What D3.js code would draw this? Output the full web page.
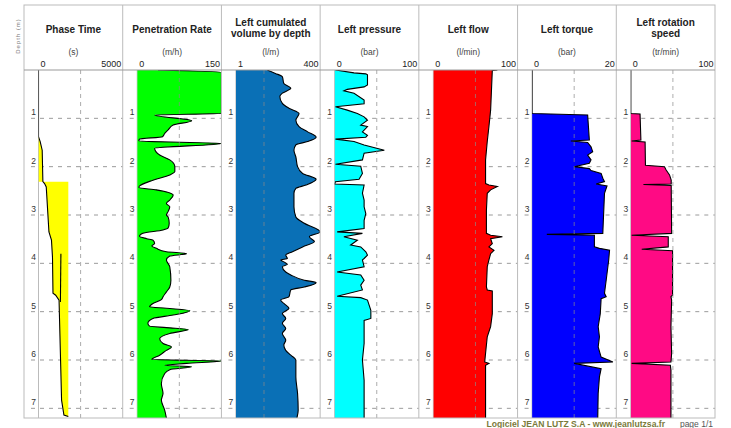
<!DOCTYPE html>
<html>
<head>
<meta charset="utf-8">
<script src="https://cdn.jsdelivr.net/npm/d3@7"></script>
<style>
  html, body { margin: 0; padding: 0; background: #fff; }
  svg { display: block; font-family: "Liberation Sans", Arial, Helvetica, sans-serif; }
</style>
</head>
<body>
<svg id="chart" width="731" height="428"></svg>
<script>
// ---- Drilling log data: [depth (m), value] pairs per parameter ----
const depthTicks = [1, 2, 3, 4, 5, 6, 7];

const phaseTime = [[0,0],[1.38,0],[1.48,100],[1.66,220],[2.31,260],[2.35,360],[2.42,460],[3.35,620],
  [3.52,770],[3.87,830],[4.62,860],[4.66,1020],[4.76,1220],[6.83,1370],[7.14,1510],[7.17,1770]];
// second phase trace
const phaseTimeB = [[3.8,1330],[4.8,1300]];
// shaded phase band: [depth, from, to]
const phaseBand = [[1.38,0,0],[1.48,0,100],[1.66,0,220],[2.31,0,260],[2.31,260,1770],[2.35,360,1770],
  [2.42,460,1770],[3.35,620,1770],[3.52,770,1770],[3.87,830,1770],[4.62,860,1770],[4.66,1020,1770],
  [4.76,1220,1770],[6.83,1370,1770],[7.14,1510,1770],[7.17,1770,1770]];

const penetrationRate = [[0,37],[0.05,150],[0.9,150],[0.93,31],[1.05,97],[1.14,64],[1.24,55],[1.31,49],
  [1.38,45],[1.43,4],[1.47,3],[1.52,150],[1.62,31],[1.76,40],[1.86,58],[2.0,67],[2.1,67],[2.17,58],
  [2.28,28],[2.4,4],[2.43,3],[2.48,34],[2.59,64],[2.69,58],[2.76,52],[2.83,58],[2.93,55],[3.0,52],
  [3.04,55],[3.17,57],[3.27,55],[3.31,46],[3.38,10],[3.44,4],[3.49,17],[3.52,28],[3.59,31],[3.64,26],
  [3.69,34],[3.76,52],[3.8,88],[3.85,58],[3.93,52],[4.07,58],[4.35,60],[4.49,58],[4.59,52],[4.69,46],
  [4.75,43],[4.83,28],[4.9,22],[4.93,52],[4.98,94],[5.07,64],[5.14,28],[5.24,19],[5.3,22],[5.33,52],
  [5.37,91],[5.45,58],[5.56,40],[5.66,46],[5.73,61],[5.8,52],[5.9,40],[5.99,26],[6.02,150],[6.07,88],
  [6.11,49],[6.14,97],[6.2,58],[6.28,49],[6.49,43],[6.69,46],[6.83,43],[7.04,49],[7.2,52]];

const cumulatedVolume = [[0,149],[0.07,188],[0.14,221],[0.28,228],[0.38,261],[0.48,221],[0.55,209],
  [0.69,221],[0.79,252],[0.9,300],[1.04,285],[1.17,300],[1.28,341],[1.39,381],[1.48,341],[1.55,285],
  [1.66,276],[1.8,285],[2.0,293],[2.14,317],[2.26,381],[2.38,333],[2.45,285],[2.55,276],[2.83,276],
  [3.04,285],[3.17,325],[3.35,400],[3.45,349],[3.55,373],[3.66,317],[3.76,269],[3.83,237],[3.9,245],
  [3.93,213],[3.97,228],[4.02,245],[4.07,221],[4.18,237],[4.24,261],[4.35,325],[4.4,381],[4.49,325],
  [4.55,261],[4.69,252],[4.76,213],[4.83,228],[4.93,252],[5.04,221],[5.14,237],[5.24,221],[5.35,237],
  [5.45,221],[5.59,237],[5.69,228],[5.8,237],[5.9,261],[6.0,285],[6.35,285],[6.69,293],[7.04,296],[7.2,290]];

const pressure = [[0,1],[0.06,23],[0.08,37],[0.1,39],[0.31,39],[0.35,35],[0.4,15],[0.43,11],[0.48,23],
  [0.62,35],[0.7,35],[0.76,1],[0.83,15],[0.9,27],[0.97,35],[1.04,39],[1.14,31],[1.17,39],[1.28,33],
  [1.35,39],[1.39,37],[1.43,1],[1.48,23],[1.55,35],[1.66,59],[1.72,35],[1.86,33],[1.95,1],[1.99,31],
  [2.14,33],[2.26,29],[2.31,1],[2.36,0],[2.38,35],[2.55,33],[2.69,35],[2.83,35],[2.97,37],[3.11,35],
  [3.28,35],[3.35,3],[3.38,33],[3.45,11],[3.52,27],[3.62,19],[3.66,31],[3.76,37],[3.83,39],[3.9,35],
  [3.93,33],[4.07,35],[4.18,3],[4.24,31],[4.35,35],[4.45,31],[4.55,33],[4.68,3],[4.71,31],[4.76,39],
  [4.97,43],[5.14,43],[5.18,35],[5.66,35],[6.0,33],[6.42,35],[7.0,35],[7.2,35]];

const flow = [[0,76],[0.01,70],[0.83,68],[1.17,66],[1.48,64],[1.86,62],[2.35,62],[2.38,66],[2.41,76],
  [2.48,68],[2.55,64],[2.9,63],[3.38,63],[3.42,68],[3.45,82],[3.49,68],[3.59,70],[3.66,66],[3.73,72],
  [3.8,68],[3.93,66],[4.07,64],[4.49,63],[4.55,64],[4.57,70],[5.04,70],[5.31,68],[5.52,64],[5.86,62],
  [6.04,61],[6.07,66],[6.11,62],[7.2,62]];

const torque = [[0,0],[0.9,0],[0.93,13.2],[1.45,13.6],[1.47,9.2],[1.5,13.2],[1.59,14],[1.69,14.4],
  [1.76,13.2],[1.86,14],[1.93,13.6],[2.0,10],[2.04,13.6],[2.08,14],[2.14,16.4],[2.24,16.8],[2.31,17.2],
  [2.36,15.2],[2.4,17.8],[2.55,17.2],[3.38,16.8],[3.4,3.5],[3.42,14.8],[3.66,14.8],[3.69,16],[3.73,18.4],
  [3.93,18.2],[4.35,17.6],[4.62,17.2],[4.69,17.6],[4.73,16.4],[5.04,16.2],[5.31,15.7],[5.52,16],
  [5.73,15.7],[5.94,16.4],[6.04,19.2],[6.07,10],[6.18,16.4],[6.35,16],[6.69,15.7],[7.2,15.6]];

const rotationSpeed = [[0,0],[0.9,0],[0.91,11],[1.45,12],[1.47,1],[1.49,17],[1.97,17.4],[2.0,40],
  [2.07,42],[2.17,46],[2.28,48],[2.36,48],[2.37,15],[2.39,48],[3.38,48.5],[3.42,1],[3.45,44.5],
  [3.66,44.5],[3.71,13],[3.74,49.6],[4.66,49.6],[4.69,47.7],[4.76,48.5],[5.31,47.7],[5.87,48.5],
  [6.04,47.7],[6.07,1],[6.11,47],[6.21,47.7],[7.2,47.7]];

// ---- Track definitions ----
const tracks = [
  { title: ["Phase Time"], unit: "(s)", domain: [0, 5000], grid: 2500, color: "#ffff00", band: phaseBand,
    lines: [phaseTime, phaseTimeB] },
  { title: ["Penetration Rate"], unit: "(m/h)", domain: [0, 150], grid: 75, color: "#00ff00",
    series: penetrationRate, smooth: true },
  { title: ["Left cumulated", "volume by depth"], unit: "(l/m)", domain: [1, 400], grid: 134, color: "#0a70b6",
    series: cumulatedVolume, smooth: true },
  { title: ["Left pressure"], unit: "(bar)", domain: [0, 100], grid: 50, color: "#00ffff", series: pressure },
  { title: ["Left flow"], unit: "(l/min)", domain: [0, 100], grid: 50, color: "#ff0000", series: flow },
  { title: ["Left torque"], unit: "(bar)", domain: [0, 20], grid: 10, color: "#0000ff", series: torque },
  { title: ["Left rotation", "speed"], unit: "(tr/min)", domain: [0, 100], grid: 50, color: "#ff0a84",
    series: rotationSpeed }
];

// ---- Layout ----
const frame = { left: 24, right: 715, top: 5, head: 70, bottom: 418 };
const depthMax = 7.2;
const colW = (frame.right - frame.left) / tracks.length;
const svg = d3.select("#chart");

const y = d3.scaleLinear().domain([0, depthMax]).range([frame.head, frame.bottom]);

svg.append("rect").attr("width", 731).attr("height", 428).attr("fill", "#fff");

tracks.forEach((t, i) => {
  const colL = frame.left + i * colW;
  const colR = colL + colW;
  const plotL = colL + 14.5;
  const x = d3.scaleLinear().domain(t.domain).range([plotL, colR]);
  const g = svg.append("g");
  const clipId = "clip" + i;
  svg.append("clipPath").attr("id", clipId)
    .append("rect").attr("x", plotL).attr("y", frame.head)
    .attr("width", colR - plotL).attr("height", frame.bottom - frame.head);

  // header
  const cx = (colL + colR) / 2;
  const titleY = t.title.length === 1 ? [33] : [25.5, 37];
  t.title.forEach((s, k) => {
    g.append("text").attr("x", cx).attr("y", titleY[k]).attr("text-anchor", "middle")
      .attr("font-size", 10).attr("font-weight", "bold").attr("fill", "#222").text(s);
  });
  g.append("text").attr("x", cx).attr("y", 55).attr("text-anchor", "middle")
    .attr("font-size", 8.5).attr("fill", "#444").text(t.unit);

  // scale range labels
  const ax = g.append("g").attr("transform", `translate(0,67)`)
    .call(d3.axisTop(x).tickValues(t.domain).tickSize(0).tickFormat(d3.format("d")));
  ax.select(".domain").remove();
  ax.selectAll("text").attr("y", 0).attr("dy", 0).attr("font-size", 9)
    .attr("fill", "#222").attr("font-family", "Liberation Sans, Arial, sans-serif")
    .attr("text-anchor", (d, k) => k === 0 ? "start" : "end")
    .attr("x", (d, k) => k === 0 ? 1.5 : -2);

  // left edge of plot area
  g.append("line").attr("x1", plotL).attr("x2", plotL).attr("y1", frame.head).attr("y2", frame.bottom)
    .attr("stroke", "#bbb");

  // horizontal depth grid (behind the curves)
  g.selectAll(".hgrid").data(depthTicks).enter().append("line")
    .attr("x1", colL + 7).attr("x2", colR).attr("y1", d => y(d)).attr("y2", d => y(d))
    .attr("stroke", "#8a8a8a").attr("stroke-dasharray", "4,5").attr("stroke-opacity", 0.85);

  const body = g.append("g").attr("clip-path", `url(#${clipId})`);
  const curve = t.smooth ? d3.curveMonotoneY : d3.curveLinear;

  if (t.band) {
    body.append("path").datum(t.band)
      .attr("d", d3.area().y(d => y(d[0])).x0(d => x(d[1])).x1(d => x(d[2])))
      .attr("fill", t.color);
    t.lines.forEach(ln => {
      body.append("path").datum(ln)
        .attr("d", d3.line().y(d => y(d[0])).x(d => x(d[1])))
        .attr("fill", "none").attr("stroke", "#000").attr("stroke-width", 1.1);
    });
  } else {
    body.append("path").datum(t.series)
      .attr("d", d3.area().curve(curve).y(d => y(d[0])).x0(x(t.domain[0])).x1(d => x(d[1])))
      .attr("fill", t.color);
    body.append("path").datum(t.series)
      .attr("d", d3.line().curve(curve).y(d => y(d[0])).x(d => x(d[1])))
      .attr("fill", "none").attr("stroke", "#000").attr("stroke-width", 1.1);
  }

  // vertical mid-scale grid
  g.append("line").attr("x1", x(t.grid)).attr("x2", x(t.grid))
    .attr("y1", frame.head).attr("y2", frame.bottom)
    .attr("stroke", "#8a8a8a").attr("stroke-dasharray", "4,4").attr("stroke-opacity", 0.7);

  // depth labels
  const dAx = g.append("g").attr("transform", `translate(${colL + 12},0)`)
    .call(d3.axisLeft(y).tickValues(depthTicks).tickSize(0).tickFormat(d3.format("d")));
  dAx.select(".domain").remove();
  dAx.selectAll("text").attr("x", -2.5).attr("dy", -3.5).attr("text-anchor", "middle")
    .attr("font-size", 8.5).attr("fill", "#333").attr("font-family", "Liberation Sans, Arial, sans-serif");
});

// frame and separators
svg.append("rect").attr("x", frame.left).attr("y", frame.top)
  .attr("width", frame.right - frame.left).attr("height", frame.bottom - frame.top)
  .attr("fill", "none").attr("stroke", "#bbb");
svg.selectAll(".sep").data(d3.range(1, tracks.length)).enter().append("line")
  .attr("x1", i => frame.left + i * colW).attr("x2", i => frame.left + i * colW)
  .attr("y1", frame.top).attr("y2", frame.bottom).attr("stroke", "#bbb");
svg.append("line").attr("x1", frame.left).attr("x2", frame.right)
  .attr("y1", frame.head).attr("y2", frame.head).attr("stroke", "#999");

// depth caption
svg.append("text").attr("transform", "translate(20,36) rotate(-90)").attr("text-anchor", "middle")
  .attr("font-size", 6).attr("fill", "#777").attr("letter-spacing", 1).text("Depth (m)");

// footer
svg.append("text").attr("x", 665).attr("y", 427).attr("text-anchor", "end")
  .attr("font-size", 8.6).attr("font-weight", "bold").attr("fill", "#7a7a3a")
  .text("Logiciel JEAN LUTZ S.A - www.jeanlutzsa.fr");
svg.append("text").attr("x", 713).attr("y", 427).attr("text-anchor", "end")
  .attr("font-size", 8.5).attr("fill", "#555").text("page 1/1");
</script>
</body>
</html>
